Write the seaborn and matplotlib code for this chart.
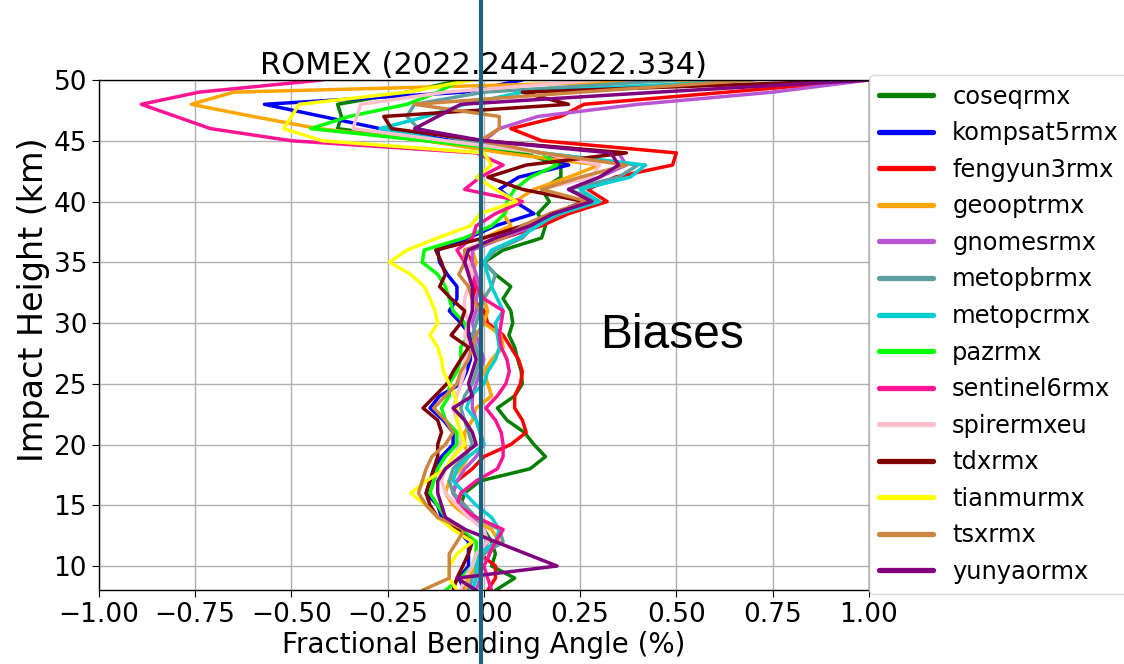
import numpy as np
import pandas as pd
import matplotlib
matplotlib.use("Agg")
import matplotlib.pyplot as plt
import seaborn as sns

# Impact height levels (km), top to bottom
heights = [50, 49, 48, 47, 46, 45, 44, 43, 42, 41, 40, 39, 38, 37, 36, 35, 34, 33, 32, 31,
           30, 29, 28, 27, 26, 25, 24, 23, 22, 21, 20, 19, 18, 17, 16, 15, 14, 13, 12, 11,
           10, 9, 8]

missions = ["coseqrmx", "kompsat5rmx", "fengyun3rmx", "geooptrmx", "gnomesrmx",
            "metopbrmx", "metopcrmx", "pazrmx", "sentinel6rmx", "spirermxeu",
            "tdxrmx", "tianmurmx", "tsxrmx", "yunyaormx"]

colors = ["green", "blue", "red", "orange", "mediumorchid", "cadetblue", "darkturquoise",
          "lime", "deeppink", "pink", "maroon", "yellow", "peru", "purple"]

# Fractional bending angle bias (%) per mission, same order as heights
coseqrmx = [-0.06, -0.2, -0.38, -0.37, -0.38, -0.15, 0.1, 0.2, 0.2, 0.15, 0.17, 0.14, 0.16, 0.15,
            0.05, 0.0, 0.03, 0.07, 0.05, 0.07, 0.075, 0.065, 0.08, 0.088, 0.097, 0.1, 0.08, 0.035,
            0.06, 0.105, 0.13, 0.16, 0.12, -0.01, -0.05, -0.06, -0.03, 0.0, 0.02, 0.03, 0.02, 0.08, 0.03]
kompsat5rmx = [0.1, -0.05, -0.57, -0.42, -0.27, -0.08, 0.15, 0.22, 0.09, 0.04, 0.08, 0.13, 0.03,
               -0.04, -0.12, -0.115, -0.095, -0.07, -0.07, -0.09, -0.06, -0.035, -0.035, -0.035,
               -0.045, -0.06, -0.115, -0.14, -0.105, -0.08, -0.08, -0.11, -0.13, -0.14, -0.15,
               -0.12, -0.11, -0.07, -0.04, -0.04, -0.04, -0.065, -0.05]
fengyun3rmx = [1.0, 0.63, 0.26, 0.2, 0.07, 0.15, 0.5, 0.49, 0.34, 0.27, 0.32, 0.22, 0.15, 0.05,
               -0.05, -0.03, -0.04, -0.02, -0.03, 0.0, 0.01, 0.05, 0.07, 0.09, 0.1, 0.095, 0.08,
               0.08, 0.1, 0.11, 0.07, 0.0, -0.03, -0.07, -0.08, -0.05, -0.03, 0.0, 0.01, -0.01,
               0.03, 0.03, 0.01]
geooptrmx = [0.55, -0.65, -0.76, -0.6, -0.43, -0.15, 0.05, 0.3, 0.22, 0.13, 0.08, 0.05, 0.07, 0.0,
             -0.03, -0.02, -0.03, -0.01, 0.0, 0.01, 0.0, 0.044, 0.05, 0.02, 0.0, 0.01, 0.02, -0.02,
             -0.03, -0.05, -0.05, -0.04, -0.06, -0.09, -0.1, -0.08, -0.04, 0.02, 0.04, 0.0, -0.02,
             -0.04, -0.05]
gnomesrmx = [1.0, 0.75, 0.4, 0.14, 0.04, 0.0, 0.35, 0.37, 0.3, 0.22, 0.29, 0.2, 0.13, 0.05, -0.03,
             -0.03, -0.02, -0.01, -0.02, -0.02, -0.03, -0.02, -0.01, 0.0, -0.01, -0.02, -0.03,
             -0.03, -0.02, -0.01, 0.0, -0.02, -0.05, -0.07, -0.08, -0.06, -0.03, 0.0, 0.01, -0.01,
             -0.02, -0.01, -0.02]
metopbrmx = [0.5, 0.0, -0.18, -0.2, -0.17, -0.05, 0.15, 0.4, 0.35, 0.22, 0.3, 0.2, 0.13, 0.1, 0.03,
             0.0, 0.03, 0.02, 0.0, -0.01, -0.02, -0.03, -0.02, -0.01, -0.02, -0.03, -0.05, -0.06,
             -0.05, -0.04, -0.03, -0.05, -0.08, -0.09, -0.08, -0.05, -0.02, 0.04, 0.05, 0.0, -0.01,
             -0.03, -0.04]
metopcrmx = [0.7, 0.1, -0.05, -0.15, -0.27, -0.1, 0.15, 0.42, 0.38, 0.25, 0.3, 0.19, 0.14, 0.09,
             0.02, 0.0, 0.01, 0.02, 0.035, 0.05, 0.03, 0.035, 0.04, 0.03, 0.01, 0.0, -0.035, -0.045,
             -0.02, -0.01, 0.0, -0.04, -0.07, -0.08, -0.05, -0.02, 0.02, 0.04, 0.03, -0.01, -0.02,
             -0.02, -0.03]
pazrmx = [-0.06, -0.12, -0.2, -0.35, -0.45, -0.15, 0.15, 0.19, 0.12, 0.08, 0.06, 0.055, 0.02, -0.05,
          -0.155, -0.16, -0.12, -0.1, -0.09, -0.08, -0.05, -0.04, -0.06, -0.06, -0.07, -0.09, -0.09,
          -0.11, -0.1, -0.07, -0.07, -0.1, -0.12, -0.13, -0.14, -0.12, -0.1, -0.06, -0.02, -0.02,
          -0.03, -0.06, -0.1]
sentinel6rmx = [-0.42, -0.74, -0.89, -0.8, -0.71, -0.5, -0.02, 0.05, -0.01, -0.05, 0.1, 0.03, -0.02,
                -0.03, -0.07, -0.05, -0.03, -0.02, 0.0, 0.05, 0.045, 0.04, 0.045, 0.06, 0.066, 0.057,
                0.035, 0.005, 0.03, 0.045, 0.05, 0.05, 0.035, -0.02, -0.06, -0.07, -0.02, 0.05, 0.03,
                0.015, 0.0, 0.01, 0.02]
spirermxeu = [0.3, -0.1, -0.32, -0.33, -0.34, -0.1, 0.15, 0.3, 0.28, 0.15, 0.26, 0.18, 0.1, 0.02,
              -0.05, -0.04, -0.03, -0.04, -0.05, -0.05, -0.04, -0.05, -0.04, -0.05, -0.05, -0.06,
              -0.07, -0.08, -0.07, -0.06, -0.06, -0.08, -0.1, -0.11, -0.1, -0.07, -0.04, 0.0, 0.01,
              -0.02, -0.03, -0.05, -0.06]
tdxrmx = [1.0, 0.1, 0.22, -0.26, -0.24, 0.0, 0.37, 0.11, 0.01, 0.1, 0.26, 0.18, 0.1, 0.0, -0.125,
          -0.11, -0.1, -0.115, -0.085, -0.05, -0.06, -0.085, -0.04, -0.06, -0.08, -0.096, -0.127,
          -0.158, -0.12, -0.11, -0.12, -0.12, -0.13, -0.14, -0.15, -0.14, -0.12, -0.07, -0.03,
          -0.04, -0.055, -0.07, -0.08]
tianmurmx = [-0.03, -0.2, -0.48, -0.5, -0.52, -0.42, 0.0, 0.02, -0.02, 0.03, 0.085, -0.01, -0.035,
             -0.12, -0.2, -0.245, -0.19, -0.155, -0.14, -0.127, -0.12, -0.14, -0.12, -0.11, -0.105,
             -0.09, -0.075, -0.07, -0.07, -0.06, -0.05, -0.08, -0.1, -0.15, -0.19, -0.15, -0.12,
             -0.08, -0.03, -0.07, -0.09, -0.09, -0.07]
tsxrmx = [0.7, 0.25, -0.18, 0.04, 0.04, -0.01, 0.15, 0.37, 0.25, 0.15, 0.27, 0.17, 0.1, 0.05, -0.05,
          -0.05, -0.065, -0.04, -0.03, -0.01, 0.0, -0.02, -0.03, -0.04, -0.06, -0.07, -0.1, -0.13,
          -0.1, -0.08, -0.1, -0.135, -0.15, -0.16, -0.17, -0.15, -0.12, -0.05, -0.07, -0.09, -0.09,
          -0.09, -0.16]
yunyaormx = [1.0, 0.45, -0.06, -0.12, -0.18, 0.0, 0.33, 0.35, 0.3, 0.22, 0.28, 0.18, 0.12, 0.03,
             -0.04, -0.05, -0.04, -0.03, -0.03, -0.03, -0.04, -0.04, -0.03, -0.02, -0.03, -0.04,
             -0.03, -0.08, -0.05, -0.03, -0.02, -0.06, -0.1, -0.12, -0.12, -0.11, -0.1, -0.048,
             0.03, 0.11, 0.19, -0.07, -0.02]

series = [coseqrmx, kompsat5rmx, fengyun3rmx, geooptrmx, gnomesrmx, metopbrmx, metopcrmx,
          pazrmx, sentinel6rmx, spirermxeu, tdxrmx, tianmurmx, tsxrmx, yunyaormx]

frames = []
for name, vals in zip(missions, series):
    frames.append(pd.DataFrame({"height": heights, "bias": vals, "mission": name}))
df = pd.concat(frames, ignore_index=True)

sns.set_style("ticks")
plt.rcParams["font.family"] = ["DejaVu Sans"]
plt.rcParams.update({"text.color": "black", "axes.labelcolor": "black",
                     "xtick.color": "black", "ytick.color": "black"})

fig = plt.figure(figsize=(11.24, 6.64), dpi=100)
ax = fig.add_axes([0.088, 0.111, 0.685, 0.7685])

sns.lineplot(data=df, x="bias", y="height", hue="mission", hue_order=missions,
             palette=dict(zip(missions, colors)), sort=False, estimator=None,
             orient="y", linewidth=2.5, ax=ax)

ax.set_xlim(-1.0, 1.0)
ax.set_ylim(8, 50)
ax.set_xticks([-1.0, -0.75, -0.5, -0.25, 0.0, 0.25, 0.5, 0.75, 1.0])
ax.set_yticks([10, 15, 20, 25, 30, 35, 40, 45, 50])
ax.set_xticklabels(["\u22121.00", "\u22120.75", "\u22120.50", "\u22120.25", "0.00",
                    "0.25", "0.50", "0.75", "1.00"])
ax.tick_params(labelsize=19, length=5, colors="black")
ax.grid(True, color="#b0b0b0", linewidth=1.0)
for s in ax.spines.values():
    s.set_color("black")
    s.set_linewidth(1.0)

ax.set_xlabel("Fractional Bending Angle (%)", fontsize=20, labelpad=2)
ax.set_ylabel("Impact Height (km)", fontsize=24)
ax.yaxis.set_label_coords(-0.063, 0.57)
ax.set_title("ROMEX (2022.244-2022.334)", fontsize=22, pad=3)

# zero-bias reference line spanning the full figure height
ax.axvline(-0.008, ymin=-0.145, ymax=1.16, color="#1d6183", linewidth=3.0,
           clip_on=False, zorder=10)

ax.text(0.49, 29.0, "Biases", fontsize=34.5, family=["Liberation Sans", "DejaVu Sans"],
        ha="center", va="center", color="black")

handles, labels = ax.get_legend_handles_labels()
leg = ax.legend(handles, labels, loc="upper left", bbox_to_anchor=(1.0, 1.01),
                borderaxespad=0.0, fontsize=17.4, handlelength=2.25, labelspacing=0.52,
                frameon=True, fancybox=True, edgecolor="#d0d0d0")
for h in leg.get_lines():
    h.set_linewidth(3.8)

fig.savefig("out.png", dpi=100)
